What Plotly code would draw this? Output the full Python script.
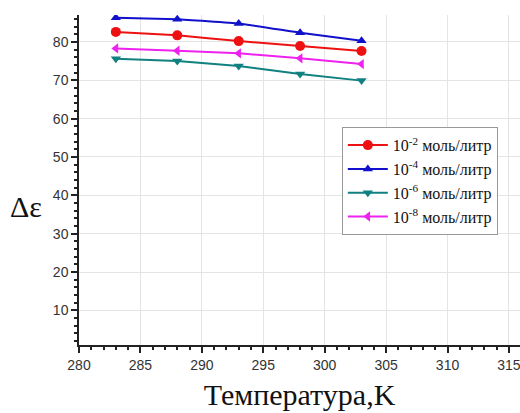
import plotly.graph_objects as go

temps = [283, 288, 293, 298, 303]
c_1e2 = [82.6, 81.7, 80.2, 78.9, 77.6]
c_1e4 = [86.3, 85.9, 84.8, 82.4, 80.3]
c_1e6 = [75.6, 75.0, 73.7, 71.6, 69.9]
c_1e8 = [78.3, 77.7, 77.0, 75.7, 74.2]

names = ["10<sup>-2</sup> моль/литр", "10<sup>-4</sup> моль/литр",
         "10<sup>-6</sup> моль/литр", "10<sup>-8</sup> моль/литр"]
series = [c_1e2, c_1e4, c_1e6, c_1e8]
colors = ["#ee1111", "#1111cc", "#108080", "#ee22ee"]
symbols = ["circle", "triangle-up", "triangle-down", "triangle-left"]

fig = go.Figure()
for n, s, c, m in zip(names, series, colors, symbols):
    fig.add_trace(go.Scatter(x=temps, y=s, name=n, mode="lines+markers",
                             line=dict(color=c, width=2, shape="spline", smoothing=0.3),
                             marker=dict(symbol=m, size=10 if m == "circle" else 9, color=c)))

axis_common = dict(showline=True, linecolor="#222", linewidth=1.5,
                   ticks="outside", ticklen=6, tickwidth=1.5, tickcolor="#222",
                   showgrid=True, gridcolor="#e4e4e4", gridwidth=1, zeroline=False,
                   ticklabeloverflow="allow",
                   tickfont=dict(family="Liberation Sans, Arial", size=14, color="#333"))

fig.update_xaxes(range=[280, 315.9], tick0=280, dtick=5,
                 minor=dict(dtick=1, ticks="outside", ticklen=3, tickcolor="#222", showgrid=False),
                 title=dict(text="Температура,K", font=dict(family="Liberation Serif, Times New Roman", size=30, color="#111"), standoff=12),
                 **axis_common)
fig.update_yaxes(range=[1, 87], tick0=0, dtick=10,
                 minor=dict(dtick=2, ticks="outside", ticklen=3, tickcolor="#222", showgrid=False),
                 **axis_common)

fig.add_annotation(text="Δε", xref="paper", yref="paper", x=-0.12, y=0.42,
                   xanchor="center", yanchor="middle", showarrow=False,
                   font=dict(family="Liberation Serif, Times New Roman", size=30, color="#111"))

fig.update_layout(width=520, height=413, paper_bgcolor="white", plot_bgcolor="white",
                  margin=dict(l=79, r=0, t=15, b=68),
                  legend=dict(x=0.596, y=0.66, xanchor="left", yanchor="top",
                              bgcolor="white", bordercolor="#999", borderwidth=1,
                              font=dict(family="Liberation Serif, Times New Roman", size=16, color="#111"),
                              tracegroupgap=0, itemwidth=40),
                  showlegend=True)

fig.write_html("out.html")
